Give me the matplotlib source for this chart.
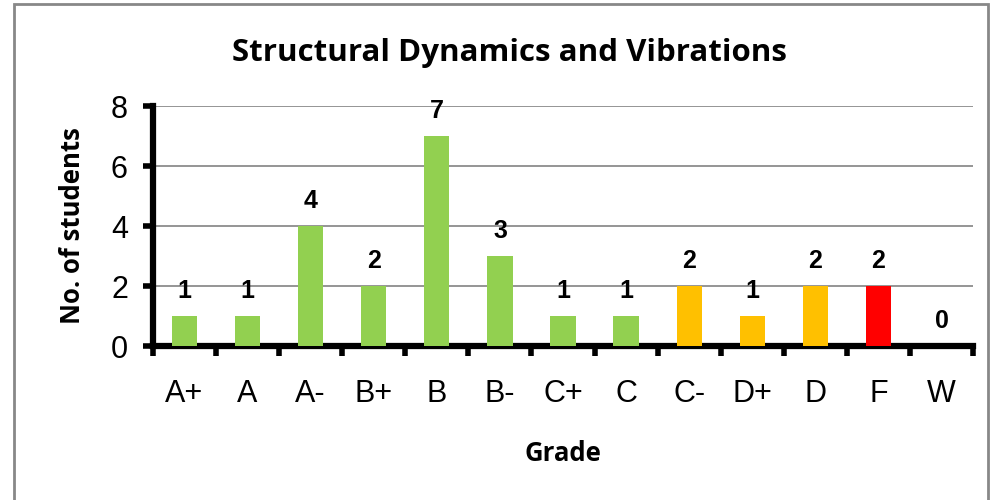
import numpy as np
import matplotlib.pyplot as plt
from matplotlib.patches import Rectangle

grades = ['A+', 'A', 'A-', 'B+', 'B', 'B-', 'C+', 'C', 'C-', 'D+', 'D', 'F', 'W']
counts = [1, 1, 4, 2, 7, 3, 1, 1, 2, 1, 2, 2, 0]
colors = ['#92D050'] * 8 + ['#FFC000'] * 3 + ['#FF0000'] + ['#92D050']

fig = plt.figure(figsize=(9.9, 5), dpi=100)
ax = fig.add_axes([153/990, 1 - 346/500, (973 - 153)/990, (346 - 106)/500])

x = np.arange(len(grades))
ax.bar(x, counts, width=0.4, color=colors, zorder=3)
for xi, v in zip(x, counts):
    ax.text(xi, v + 0.45, str(v), ha='center', va='bottom', fontsize=18,
            fontweight='bold', family='Liberation Sans')

ax.set_xlim(-0.5, len(grades) - 0.5)
ax.set_ylim(0, 8)
ax.set_yticks([0, 2, 4, 6, 8])
ax.yaxis.grid(True, color='#8c8c8c', linewidth=1.3, zorder=0)
ax.set_xticks(x)
ax.set_xticklabels(grades)
ax.set_xticks(np.arange(-0.5, len(grades)), minor=True)
ax.tick_params(axis='x', which='major', length=0, pad=24)
ax.tick_params(axis='x', which='minor', direction='out', length=7, width=4)
ax.tick_params(axis='y', direction='out', length=7, width=4, pad=11)
for lab in ax.get_xticklabels() + ax.get_yticklabels():
    lab.set_fontsize(22)
    lab.set_family('Liberation Sans')

for s in ['top', 'right']:
    ax.spines[s].set_visible(False)
for s in ['left', 'bottom']:
    ax.spines[s].set_linewidth(4.5)

ax.set_xlabel('Grade', fontsize=18.5, fontweight='bold', family='Open Sans', labelpad=22)
ax.set_ylabel('No. of students', fontsize=18.5, fontweight='bold', family='Open Sans', labelpad=18)
fig.text(509/990, 1 - 53/500, 'Structural Dynamics and Vibrations', ha='center', va='center',
         fontsize=22.5, fontweight='bold', family='Open Sans')

fig.patches.append(Rectangle((14/990, -0.05), (988 - 14)/990, 1.05 - 4/500, transform=fig.transFigure,
                             fill=False, edgecolor='#888888', linewidth=2))

fig.savefig('out.png', dpi=100)
